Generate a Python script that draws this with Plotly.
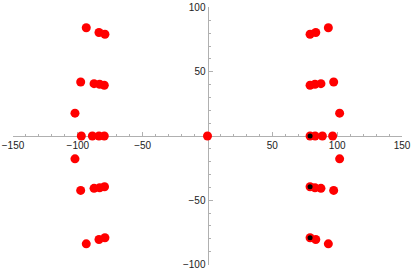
import plotly.graph_objects as go

# Red points
red_x = [-93.5, -83.7, -79.1, -97.8, -87.5, -83.2, -79.6, -102.2,
         -97.3, -88.8, -83.7, -79.6,
         -102.2, -97.8, -87.5, -83.2, -79.4, -93.5, -83.7, -79.1,
         0,
         93.2, 83.5, 79.1, 97.3, 87.5, 82.9, 79.1, 101.9,
         79.1, 83.0, 88.6, 96.5,
         101.9, 79.1, 82.9, 87.5, 97.3, 79.1, 83.5, 93.2]
red_y = [84.3, 80.6, 79.3, 42.1, 40.8, 40.3, 39.5, 17.8,
         0, 0, 0, 0,
         -17.8, -42.4, -40.8, -40.3, -39.5, -84.0, -80.6, -79.3,
         0,
         84.3, 80.6, 79.3, 42.1, 40.8, 40.3, 39.5, 17.8,
         0, 0, 0, 0,
         -17.8, -39.5, -40.3, -40.8, -42.4, -79.3, -80.6, -84.0]

# Black points
black_x = [79.1, 79.1, 79.1]
black_y = [0, -39.5, -79.3]

x_ticks = [-150, -100, -50, 50, 100, 150]
y_ticks = [-100, -50, 50, 100]

fig = go.Figure()
fig.add_trace(go.Scatter(x=red_x, y=red_y, mode="markers",
                         marker=dict(color="#ff0000", size=9, line=dict(width=0)),
                         hoverinfo="skip", cliponaxis=False))
fig.add_trace(go.Scatter(x=black_x, y=black_y, mode="markers",
                         marker=dict(color="#000000", size=5, line=dict(width=0)),
                         hoverinfo="skip", cliponaxis=False))

axis_col = "#b0b0b0"
font = dict(family="Liberation Sans, Arial, sans-serif", size=10, color="#222222")

fig.update_layout(
    width=412, height=273,
    margin=dict(l=12.5, r=9.5, t=7, b=8),
    paper_bgcolor="white", plot_bgcolor="white",
    showlegend=False,
    font=font,
    xaxis=dict(range=[-150, 150], anchor="free", position=0.5,
               automargin=False, layer="below traces",
               showline=True, linecolor=axis_col, linewidth=1,
               showgrid=False, zeroline=False,
               tickmode="array", tickvals=x_ticks,
               ticks="inside", ticklen=4, tickcolor=axis_col, tickwidth=1,
               minor=dict(ticks="inside", ticklen=2, dtick=10, tick0=0,
                          tickcolor=axis_col, showgrid=False),
               tickfont=font),
    yaxis=dict(range=[-100.5, 100.5], anchor="free", position=0.5,
               automargin=False, layer="below traces",
               showline=True, linecolor=axis_col, linewidth=1,
               showgrid=False, zeroline=False,
               tickmode="array", tickvals=y_ticks,
               ticks="inside", ticklen=4, tickcolor=axis_col, tickwidth=1,
               minor=dict(ticks="inside", ticklen=2, dtick=10, tick0=0,
                          tickcolor=axis_col, showgrid=False),
               tickfont=font),
)

fig.write_html("out.html",
               config={"displayModeBar": False, "staticPlot": True},
               post_script="document.body.style.margin='0';document.body.style.overflow='hidden';")
